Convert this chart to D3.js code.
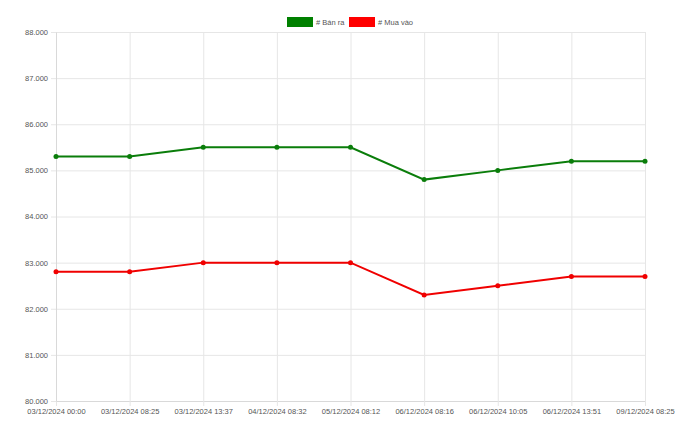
<!DOCTYPE html>
<html><head><meta charset="utf-8">
<script src="https://cdn.jsdelivr.net/npm/d3@7"></script>
<style>body{margin:0;background:#fff}svg{display:block;font-family:"Liberation Sans",Arial,sans-serif}</style>
</head><body><svg id="c" width="680" height="434"></svg>
<script>
const categories = ["03/12/2024 00:00","03/12/2024 08:25","03/12/2024 13:37","04/12/2024 08:32","05/12/2024 08:12","06/12/2024 08:16","06/12/2024 10:05","06/12/2024 13:51","09/12/2024 08:25"];
const banRa = [85300,85300,85500,85500,85500,84800,85000,85200,85200];
const muaVao = [82800,82800,83000,83000,83000,82300,82500,82700,82700];
const yTicks = [80000,81000,82000,83000,84000,85000,86000,87000,88000];
const seriesNames = ["# Bán ra","# Mua vào"];
const seriesColors = ["#0a7d0a","#f00000"];

const svg = d3.select("#c");
const L = 56, R = 645, T = 32, B = 401;
const x = d3.scalePoint().domain(categories).range([L, R]);
const y = d3.scaleLinear().domain([80000, 88000]).range([B, T]);
const lbl = v => (v/1000).toFixed(3);

// grid
const gx = svg.append("g").attr("transform",`translate(0,${B})`)
  .call(d3.axisBottom(x).tickSize(-(B-T)).tickSizeOuter(0).tickPadding(0).tickFormat(""));
gx.select(".domain").remove();
gx.selectAll("line").attr("stroke","#e6e6e6");
const gy = svg.append("g").attr("transform",`translate(${L},0)`)
  .call(d3.axisLeft(y).tickValues(yTicks).tickSize(-(R-L)).tickFormat(""));
gy.select(".domain").remove();
gy.selectAll("line").attr("stroke","#e6e6e6");

// axes with ticks
const ax = svg.append("g").attr("transform",`translate(0,${B})`)
  .call(d3.axisBottom(x).tickSize(5).tickSizeOuter(0).tickPadding(3));
ax.select(".domain").attr("stroke","#d9d9d9");
ax.selectAll("line").attr("stroke","#e6e6e6");
ax.selectAll("text").attr("fill","#555").attr("font-size","7.5px");
const ay = svg.append("g").attr("transform",`translate(${L},0)`)
  .call(d3.axisLeft(y).tickValues(yTicks).tickSize(5).tickSizeOuter(0).tickPadding(3).tickFormat(lbl));
ay.select(".domain").attr("stroke","#d9d9d9");
ay.selectAll("line").attr("stroke","#e6e6e6");
ay.selectAll("text").attr("fill","#555").attr("font-size","7.5px");

// lines
const line = d3.line().x((d,i)=>x(categories[i])).y(d=>y(d));
[banRa, muaVao].forEach((s,k)=>{
  svg.append("path").datum(s).attr("d",line).attr("fill","none")
    .attr("stroke",seriesColors[k]).attr("stroke-width",2);
  svg.append("g").selectAll("circle").data(s).join("circle")
    .attr("cx",(d,i)=>x(categories[i])).attr("cy",d=>y(d)).attr("r",2.5)
    .attr("fill",seriesColors[k]);
});

// legend
const lg = svg.append("g");
const lx = [287, 349];
seriesNames.forEach((n,k)=>{
  lg.append("rect").attr("x",lx[k]).attr("y",17).attr("width",26).attr("height",10)
    .attr("fill",k===0?"#008000":"#ff0000");
  lg.append("text").attr("x",lx[k]+29).attr("y",25).text(n)
    .attr("fill","#555").attr("font-size","7.5px");
});
</script></body></html>
